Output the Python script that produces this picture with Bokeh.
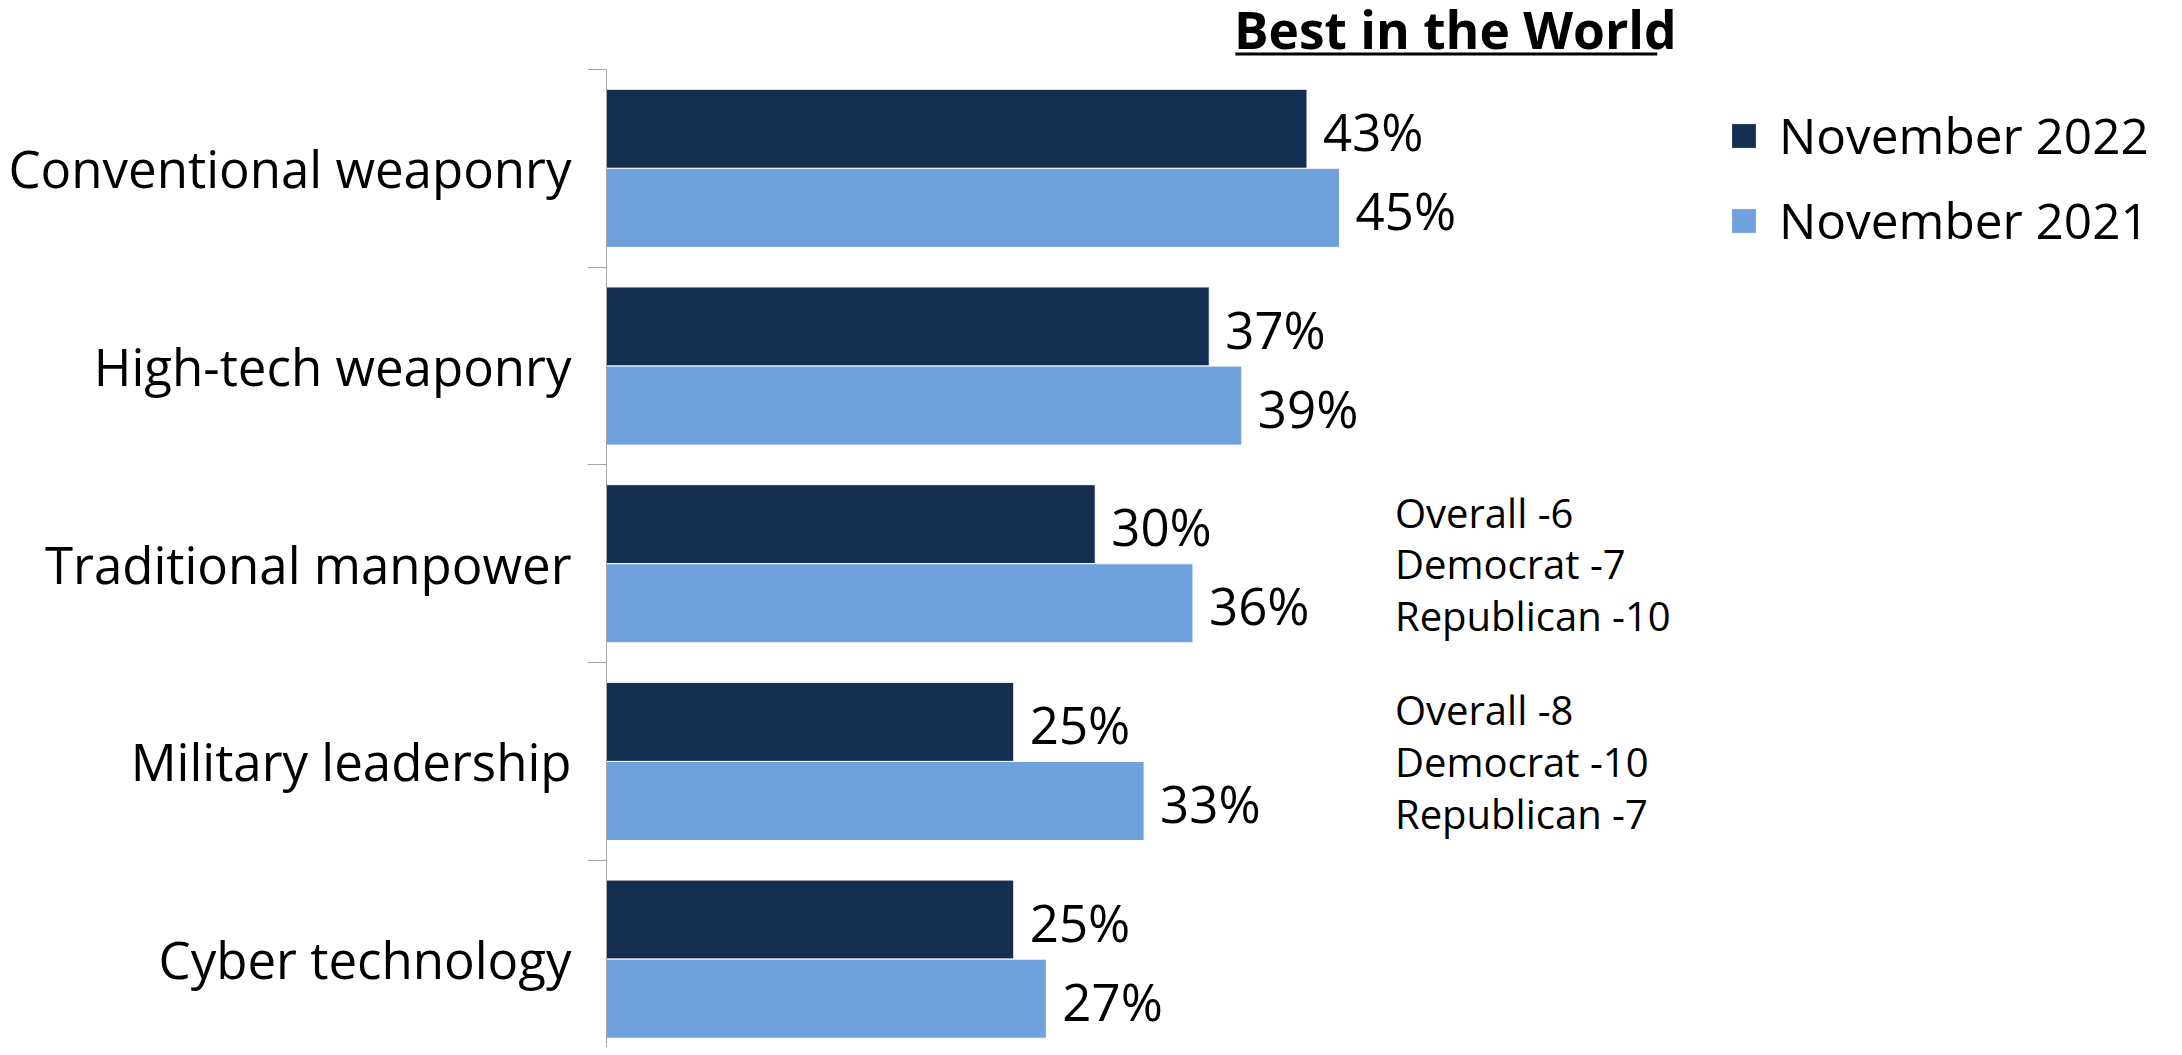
from bokeh.plotting import figure
from bokeh.models import ColumnDataSource, Range1d, FixedTicker
from bokeh.transform import dodge
from bokeh.core.properties import value
from bokeh.embed import file_html
from bokeh.resources import INLINE

# ---- data ----
categories = ["Conventional weaponry", "High-tech weaponry", "Traditional manpower",
              "Military leadership", "Cyber technology"]
nov_2022 = [43, 37, 30, 25, 25]
nov_2021 = [45, 39, 36, 33, 27]
notes = ["", "",
         "Overall -6\nDemocrat -7\nRepublican -10",
         "Overall -8\nDemocrat -10\nRepublican -7",
         ""]
series_names = ["November 2022", "November 2021"]
title_text = "Best in the World"

# ---- styles / layout constants ----
DARK = "#142e52"
LIGHT = "#6fa1dd"
FONT = "Open Sans"
W, H = 2166, 1047
NOTE_X = 48.4            # x (in %) where the side notes start
TITLE_X = 52.1           # title centre (in % units)
TITLE_Y = 4.705          # title middle (in category units)
ULINE_Y = 4.578          # underline position
ULINE_X0, ULINE_X1 = 38.6, 64.5

n = len(categories)
pos = [n - 1 - i for i in range(n)]

src = ColumnDataSource(dict(
    pos=pos, v22=nov_2022, v21=nov_2021,
    l22=[f"{v}%" for v in nov_2022], l21=[f"{v}%" for v in nov_2021],
))
note_src = ColumnDataSource(dict(
    pos=[p for p, t in zip(pos, notes) if t],
    note=[t for t in notes if t],
    x=[NOTE_X for t in notes if t],
))

p = figure(width=W, height=H, x_range=Range1d(0, 95.76), y_range=Range1d(-0.447, 4.849),
           x_axis_location=None, output_backend="svg", toolbar_location=None,
           min_border_left=606, min_border_right=0, min_border_top=0, min_border_bottom=0)
p.xgrid.visible = False
p.ygrid.visible = False
p.outline_line_color = None

# title with underline
p.text(x=[TITLE_X], y=[TITLE_Y], text=[title_text], text_align="center",
       text_baseline="middle", text_font=value(FONT), text_font_style="bold",
       text_font_size="51.5px", text_color="black")
p.segment(x0=[ULINE_X0], x1=[ULINE_X1], y0=[ULINE_Y], y1=[ULINE_Y],
          line_color="black", line_width=3)

# bars
p.hbar(y=dodge("pos", 0.2), left=0, right="v22", height=0.4, source=src,
       fill_color=DARK, line_color="white", line_width=1, legend_label=series_names[0])
p.hbar(y=dodge("pos", -0.2), left=0, right="v21", height=0.4, source=src,
       fill_color=LIGHT, line_color="white", line_width=1, legend_label=series_names[1])

# value labels
p.text(x="v22", y=dodge("pos", 0.2), text="l22", source=src, x_offset=16, y_offset=2,
       text_baseline="middle", text_font=value(FONT), text_font_size="51px", text_color="black")
p.text(x="v21", y=dodge("pos", -0.2), text="l21", source=src, x_offset=16, y_offset=2,
       text_baseline="middle", text_font=value(FONT), text_font_size="51px", text_color="black")

# side notes
p.text(x="x", y="pos", text="note", source=note_src, text_baseline="middle",
       text_font=value(FONT), text_font_size="40px", text_line_height=0.94, text_color="black")

# category axis: labels at centres, tick marks at band boundaries
ax = p.yaxis[0]
ax.bounds = (-0.5, 4.5)
ax.ticker = FixedTicker(ticks=pos, minor_ticks=[k + 0.5 for k in range(-1, n)])
ax.major_label_overrides = {pp: c for pp, c in zip(pos, categories)}
ax.major_label_text_font = FONT
ax.major_label_text_font_size = "51px"
ax.major_label_text_color = "black"
ax.major_label_standoff = 16
ax.major_tick_line_color = None
ax.major_tick_out = 0
ax.major_tick_in = 0
ax.minor_tick_out = 19
ax.minor_tick_in = 0
ax.minor_tick_line_color = "#a6a6a6"
ax.axis_line_color = "#a6a6a6"
ax.axis_line_width = 1

lg = p.legend[0]
lg.location = (1122, 788)
lg.margin = 0
lg.padding = 3
lg.border_line_color = None
lg.background_fill_alpha = 0
lg.glyph_width = 31
lg.glyph_height = 31
lg.label_height = 78
lg.label_standoff = 20
lg.spacing = 7
lg.label_text_font = FONT
lg.label_text_font_size = "49.5px"
lg.label_text_color = "black"

open("out.html", "w").write(file_html(p, INLINE))
